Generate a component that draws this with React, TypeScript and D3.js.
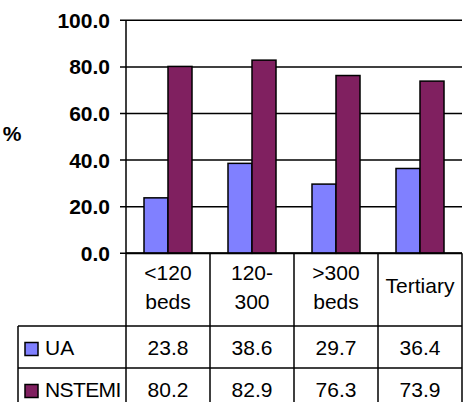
import React from 'react';
import { scaleBand, scaleLinear } from 'd3';

const categories = ['<120 beds', '120-300', '>300 beds', 'Tertiary'];
const categoryLines = [['<120', 'beds'], ['120-', '300'], ['>300', 'beds'], ['Tertiary']];
const seriesNames = ['UA', 'NSTEMI'];
const uaValues = [23.8, 38.6, 29.7, 36.4];
const nstemiValues = [80.2, 82.9, 76.3, 73.9];
const yTicks = [0, 20, 40, 60, 80, 100];

const colors: Record<string, string> = { UA: '#8080FF', NSTEMI: '#802060' };
const font = 'Arial, "Liberation Sans", sans-serif';

const App: React.FC = () => {
  const width = 473;
  const height = 402;
  const left = 126;
  const right = 462;
  const top = 20.3;
  const base = 253.3;
  const headerBottom = 326;
  const row1Bottom = 368;
  const legendLeft = 18;

  const x = scaleBand<string>().domain(categories).range([left, right]).padding(0);
  const xs = scaleBand<string>().domain(seriesNames).range([0, x.bandwidth()]).paddingInner(0).paddingOuter(0.75);
  const y = scaleLinear().domain([0, 100]).range([base, top]);

  const values: Record<string, number[]> = { UA: uaValues, NSTEMI: nstemiValues };
  const rowTops = [headerBottom, row1Bottom];

  return (
    <svg width={width} height={height} style={{ position: 'absolute', left: 0, top: 0 }} fontFamily={font}>
      <rect width={width} height={height} fill="#fff" />
      {/* gridlines + ticks */}
      {yTicks.map(t => (
        <g key={t}>
          <line x1={left - 6} x2={right} y1={y(t)} y2={y(t)} stroke="#000" strokeWidth={1.5} />
          <text x={110} y={y(t)} dy="0.36em" textAnchor="end" fontSize={21} fontWeight="bold">{t.toFixed(1)}</text>
        </g>
      ))}
      <text x={12} y={133} dy="0.36em" textAnchor="middle" fontSize={21} fontWeight="bold">%</text>
      {/* bars */}
      {seriesNames.map(s => categories.map((c, i) => (
        <rect key={s + c}
          x={(x(c) ?? 0) + (xs(s) ?? 0)}
          y={y(values[s][i])}
          width={xs.bandwidth()}
          height={base - y(values[s][i])}
          fill={colors[s]} stroke="#000" strokeWidth={1.5} />
      )))}
      {/* axis */}
      <line x1={left} x2={left} y1={top} y2={height + 10} stroke="#000" strokeWidth={1.5} />
      <line x1={left} x2={right} y1={base} y2={base} stroke="#000" strokeWidth={2} />
      {/* table */}
      {categories.map((c, i) => (
        <g key={c}>
          <line x1={(x(c) ?? 0) + x.bandwidth()} x2={(x(c) ?? 0) + x.bandwidth()} y1={base} y2={height + 10} stroke="#000" strokeWidth={1.5} />
          {categoryLines[i].map((ln, j) => (
            <text key={j} x={(x(c) ?? 0) + x.bandwidth() / 2}
              y={categoryLines[i].length === 1 ? 293 : 280 + j * 29}
              textAnchor="middle" fontSize={21}>{ln}</text>
          ))}
          {seriesNames.map((s, r) => (
            <text key={s} x={(x(c) ?? 0) + x.bandwidth() / 2} y={rowTops[r] + 29}
              textAnchor="middle" fontSize={21}>{values[s][i].toFixed(1)}</text>
          ))}
        </g>
      ))}
      <line x1={legendLeft} x2={legendLeft} y1={headerBottom} y2={height + 10} stroke="#000" strokeWidth={1.5} />
      {rowTops.map(rt => (
        <line key={rt} x1={legendLeft} x2={right} y1={rt} y2={rt} stroke="#000" strokeWidth={1.5} />
      ))}
      {seriesNames.map((s, r) => (
        <g key={s}>
          <rect x={25} y={rowTops[r] + 16.5} width={13} height={13} fill={colors[s]} stroke="#000" strokeWidth={1.5} />
          <text x={45} y={rowTops[r] + 29} fontSize={21} letterSpacing={s === 'NSTEMI' ? -0.6 : 0}>{s}</text>
        </g>
      ))}
    </svg>
  );
};

export default App;
